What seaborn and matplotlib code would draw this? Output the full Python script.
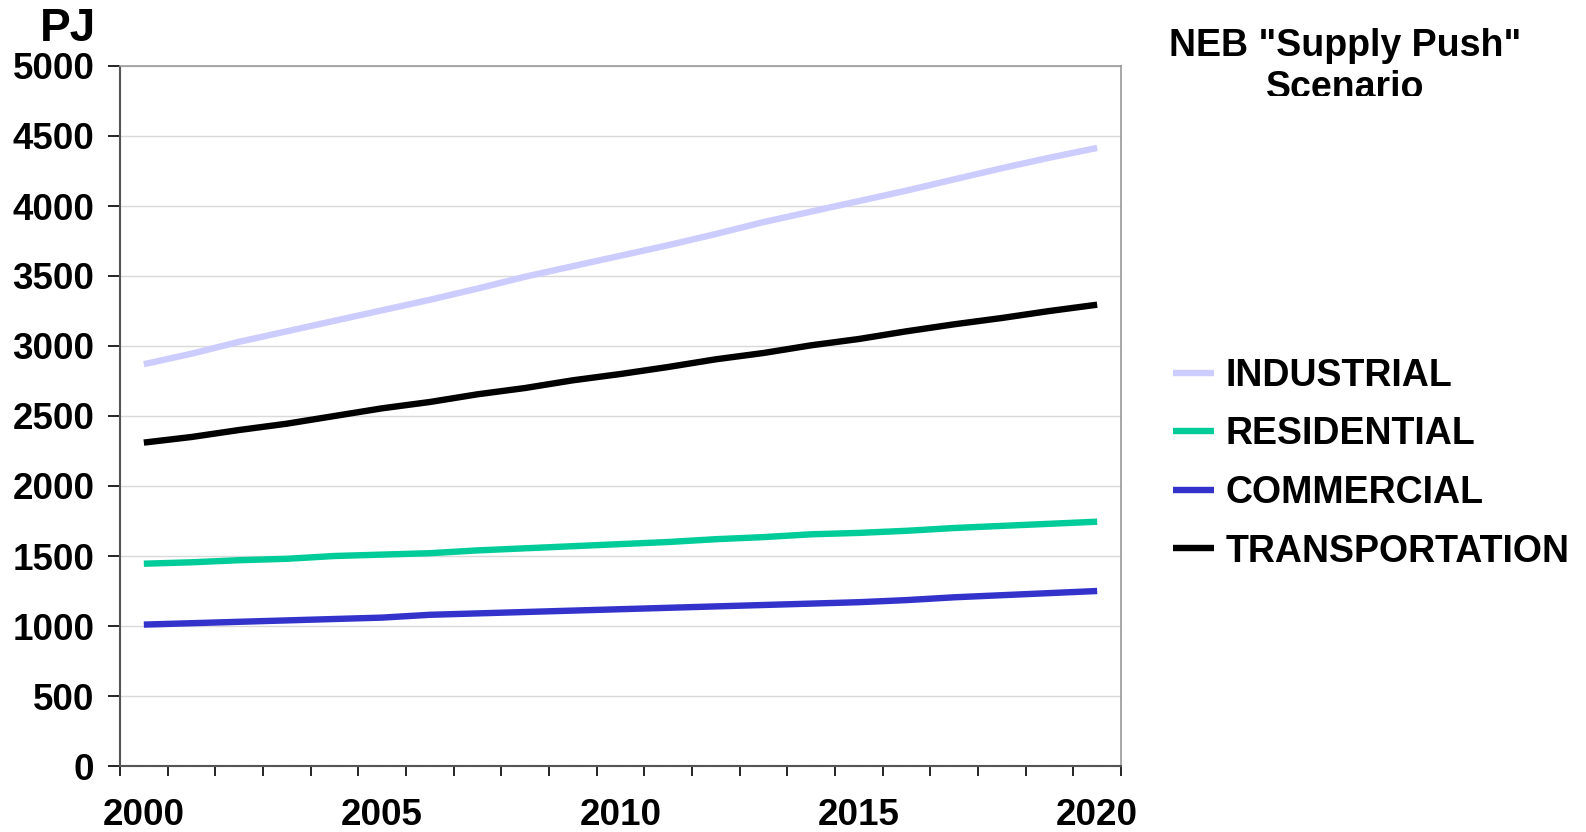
import pandas as pd
import matplotlib.pyplot as plt
import numpy as np
import seaborn as sns
from matplotlib.transforms import Bbox, TransformedBbox

years = list(range(2000, 2021))
industrial = [2870, 2945, 3030, 3105, 3180, 3255, 3330, 3410, 3495, 3570, 3645,
              3720, 3800, 3885, 3960, 4035, 4110, 4190, 4270, 4345, 4415]
residential = [1445, 1455, 1470, 1480, 1500, 1510, 1520, 1540, 1555, 1570, 1585,
               1600, 1620, 1635, 1655, 1665, 1680, 1700, 1715, 1730, 1745]
commercial = [1010, 1020, 1030, 1040, 1050, 1060, 1080, 1090, 1100, 1110, 1120,
              1130, 1140, 1150, 1160, 1170, 1185, 1205, 1220, 1235, 1250]
transportation = [2310, 2350, 2400, 2445, 2500, 2555, 2600, 2655, 2700, 2755, 2800,
                  2850, 2905, 2950, 3005, 3050, 3105, 3155, 3200, 3250, 3295]
sectors = ["INDUSTRIAL", "RESIDENTIAL", "COMMERCIAL", "TRANSPORTATION"]
colors = ["#CCCCFF", "#00CC99", "#3333CC", "#000000"]
yticks = list(range(0, 5001, 500))
xlabels = ["2000", "2005", "2010", "2015", "2020"]

sns.set_style("white")
plt.rcParams["font.family"] = ["Liberation Sans", "DejaVu Sans"]
plt.rcParams["font.weight"] = "bold"
plt.rcParams["text.color"] = "black"
plt.rcParams["xtick.color"] = "black"
plt.rcParams["ytick.color"] = "black"
plt.rcParams["lines.solid_capstyle"] = "butt"

df = pd.DataFrame({"pos": list(range(len(years))) * 4,
                   "sector": np.repeat(sectors, len(years)),
                   "value": industrial + residential + commercial + transportation})

fig = plt.figure(figsize=(15.86, 8.32), dpi=100)
ax = fig.add_axes([120 / 1586, 1 - 766 / 832, 1001 / 1586, 700 / 832])

sns.lineplot(data=df, x="pos", y="value", hue="sector", hue_order=sectors,
             palette=colors, linewidth=4.6, ax=ax, legend=False)

ax.set_xlim(-0.5, 20.5)
ax.set_ylim(0, 5000)
ax.set_xlabel("")
ax.set_ylabel("")
ax.set_yticks(yticks)
ax.set_yticklabels([str(v) for v in yticks], fontsize=26.5, fontweight="bold")
ax.set_xticks([0, 5, 10, 15, 20])
ax.set_xticklabels(xlabels, fontsize=26.5, fontweight="bold")
ax.set_xticks(np.arange(-0.5, 21, 1), minor=True)
ax.tick_params(axis="x", which="major", length=0, pad=23)
ax.tick_params(axis="x", which="minor", length=7.5, width=1.2, direction="out", bottom=True)
ax.tick_params(axis="y", length=8.5, width=1.2, direction="out", left=True, pad=10)
ax.yaxis.grid(True, color="#d9d9d9", linewidth=1)
ax.set_axisbelow(True)

for side in ["left", "bottom"]:
    ax.spines[side].set_color("#555555")
    ax.spines[side].set_linewidth(1.5)
    ax.spines[side].set_linestyle((0, (1, 0.6)))
for side in ["top", "right"]:
    ax.spines[side].set_color("#999999")
    ax.spines[side].set_linewidth(1.2)
    ax.spines[side].set_linestyle((0, (1, 1)))

fig.text(68 / 1586, 1 - 29 / 832, "PJ", fontsize=33, fontweight="bold", ha="center", va="center")

t = fig.text(1345 / 1586, 1 - 67 / 832, 'NEB "Supply Push"\nScenario', fontsize=27,
             fontweight="bold", ha="center", va="center", linespacing=1.24)
t.set_clip_box(TransformedBbox(Bbox([[0.7, 1 - 96 / 832], [1.0, 1.0]]), fig.transFigure))
t.set_clip_on(True)

handles = [plt.Line2D([], [], color=c, linewidth=4.6) for c in colors]
fig.legend(handles, sectors, loc="upper left", bbox_to_anchor=(1173 / 1586, 1 - 358 / 832),
           frameon=False, prop={"size": 27, "weight": "bold"}, handlelength=1.08,
           handletextpad=0.33, labelspacing=0.6, borderaxespad=0, borderpad=0)

plt.savefig("out.png", dpi=100)
